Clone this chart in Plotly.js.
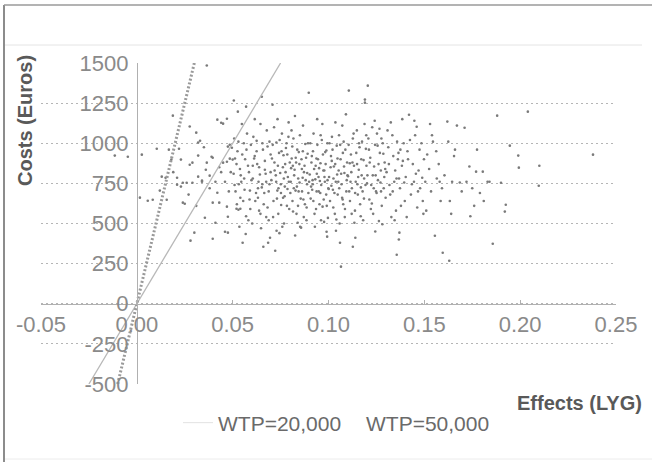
<!DOCTYPE html>
<html>
<head>
<meta charset="utf-8">
<script src="https://cdn.plot.ly/plotly-3.0.1.min.js"></script>
<style>
html,body{margin:0;padding:0;background:#fff;}
#chart{width:652px;height:462px;}
</style>
</head>
<body>
<div id="chart"></div>
<script>
// Simulated incremental effects (LYG) and costs (Euros)
const effects = [
-0.0115,-0.0047,0.0026,0.0016,0.0057,0.0083,0.0104,0.013,0.015,0.0156,
0.0167,0.018,0.0188,0.021,0.021,0.022,0.023,0.023,0.024,0.025,
0.024,0.026,0.0276,0.0276,0.028,0.029,0.029,0.030,0.031,0.032,
0.032,0.033,0.032,0.034,0.034,0.0355,0.0365,0.0365,0.038,0.039,
0.0396,0.0396,0.0396,0.041,0.041,0.042,0.042,0.043,0.044,0.045,
0.045,0.046,0.047,0.047,0.047,0.0475,0.0475,0.0475,0.0485,0.0485,
0.0496,0.050,0.0506,0.052,0.0527,0.053,0.054,0.057,0.036,0.044,
0.012,0.019,0.027,0.035,0.038,0.043,0.046,0.048,0.049,0.031,
0.051,0.052,0.053,0.054,0.055,0.056,0.057,0.058,0.059,0.0595,
0.0505,0.0515,0.0525,0.0535,0.0545,0.0555,0.0565,0.0575,0.0585,0.0592,
0.0508,0.0522,0.0538,0.0548,0.0562,0.0572,0.0582,0.0598,0.0532,0.0568,
0.0512,0.0542,0.0558,0.0588,0.0552,
0.0605,0.0612,0.0618,0.0625,0.0632,0.0638,0.0645,0.0652,0.0658,0.0665,
0.0672,0.0678,0.0685,0.0692,0.0698,0.0602,0.0615,0.0628,0.0635,0.0648,
0.0655,0.0662,0.0668,0.0675,0.0682,0.0688,0.0695,0.0608,0.0622,0.0642,
0.0655,0.0668,0.0682,0.0615,0.0638,0.0692,0.0645,0.0605,0.0675,0.066,
0.0625,0.0698,0.0632,0.0688,0.0652,
0.0702,0.0708,0.0713,0.0718,0.0722,0.0728,0.0733,0.0738,0.0742,0.0748,
0.0752,0.0757,0.0762,0.0768,0.0772,0.0778,0.0783,0.0788,0.0792,0.0798,
0.0705,0.0711,0.0716,0.0725,0.0731,0.0736,0.0745,0.0751,0.0759,0.0765,
0.0771,0.0776,0.0781,0.0786,0.0795,0.0709,0.0727,0.0744,0.0763,0.0785,
0.0719,0.0739,0.0755,0.0774,0.0793,0.0734,0.0753,0.0767,0.0729,0.0791,
0.0803,0.0808,0.0812,0.0817,0.0823,0.0828,0.0833,0.0837,0.0842,0.0848,
0.0852,0.0857,0.0862,0.0867,0.0872,0.0877,0.0883,0.0888,0.0893,0.0897,
0.0805,0.0815,0.0825,0.0835,0.0845,0.0855,0.0865,0.0875,0.0885,0.0895,
0.0801,0.0811,0.0821,0.0831,0.0841,0.0851,0.0861,0.0871,0.0881,0.0891,
0.0807,0.0819,0.0829,0.0839,0.0849,0.0859,0.0869,0.0879,0.0889,0.0899,
0.0814,0.0844,0.0866,0.0886,0.0826,
0.0902,0.0907,0.0913,0.0918,0.0922,0.0927,0.0933,0.0938,0.0942,0.0948,
0.0953,0.0958,0.0962,0.0968,0.0973,0.0977,0.0983,0.0988,0.0990,0.0995,
0.0905,0.0915,0.0925,0.0935,0.0945,0.0955,0.0965,0.0975,0.0985,0.0997,
0.0909,0.0919,0.0929,0.0939,0.0949,0.0959,0.0969,0.0979,0.0989,0.0999,
0.0911,0.0931,0.0951,0.0971,0.0991,0.0921,0.0941,0.0961,0.0981,0.0994,
0.0917,0.0937,0.0957,0.0978,0.0993,
0.1003,0.1008,0.1013,0.1018,0.1023,0.1028,0.1033,0.1038,0.1043,0.1048,
0.1053,0.1058,0.1063,0.1065,0.1068,0.1072,0.1077,0.1083,0.1088,0.1093,
0.1097,0.1005,0.1015,0.1025,0.1035,0.1045,0.1055,0.1060,0.1075,0.1085,
0.1095,0.1011,0.1021,0.1031,0.1041,0.1051,0.1061,0.1071,0.1081,0.1091,
0.1001,0.1026,0.1047,0.1066,0.1086,0.1036,0.1056,0.1079,0.1099,0.1017,
0.1039,0.1074,
0.1102,0.1106,0.1112,0.1117,0.1122,0.1127,0.1127,0.1133,0.1138,0.1142,
0.1140,0.1148,0.1153,0.1158,0.1162,0.1168,0.1173,0.1178,0.1183,0.1188,
0.1190,0.1190,0.1193,0.1198,0.1105,0.1115,0.1125,0.1135,0.1145,0.1155,
0.1165,0.1175,0.1185,0.1195,0.1108,0.1119,0.1131,0.1151,0.1171,0.1181,
0.1111,0.1139,0.1159,0.1186,0.1121,0.1149,0.1169,0.1197,
0.1203,0.1205,0.1208,0.1213,0.1218,0.1223,0.1228,0.1233,0.1238,0.1243,
0.1248,0.1253,0.1258,0.1263,0.1268,0.1273,0.1278,0.1283,0.1288,0.1293,
0.1298,0.1211,0.1221,0.1231,0.1241,0.1251,0.1261,0.1271,0.1281,0.1291,
0.1215,0.1236,0.1256,0.1276,0.1296,0.1226,0.1246,0.1266,0.1286,0.1201,
0.1244,0.1274,
0.1303,0.1312,0.1322,0.1333,0.1343,0.1352,0.1356,0.1362,0.1367,0.1370,
0.1373,0.1383,0.1392,0.1398,0.1308,0.1318,0.1328,0.1338,0.1348,0.1358,
0.1368,0.1378,0.1388,0.1315,0.1335,0.1355,0.1375,0.1395,0.1325,0.1345,
0.1385,0.1365,
0.1403,0.1412,0.1420,0.1430,0.1440,0.1446,0.1452,0.1460,0.1463,0.1470,
0.1478,0.1485,0.1492,0.1498,0.1408,0.1425,0.1435,0.1456,0.1475,0.1489,
0.1415,0.1448,0.1467,0.1495,
0.1505,0.1515,0.1525,0.1535,0.1545,0.1555,0.1565,0.1575,0.1585,0.1596,
0.1510,0.1540,0.1562,0.1580,0.1530,0.1592,
0.1605,0.1620,0.1630,0.1633,0.1645,0.1655,0.1670,0.1685,0.1640,0.1660,
0.1695,0.1625,
0.1710,0.1720,0.1735,0.1750,0.1770,0.1790,0.1775,0.1760,0.1805,0.1830,
0.1840,0.1857,0.1880,0.1900,0.1925,0.1920,0.1946,0.1990,0.1993,0.2040,
0.2100,0.2097,0.2380,0.1740,0.1810
];
const costs = [
923,916,929,661,642,648,966,792,785,648,
960,898,1172,785,742,966,898,730,630,623,
754,754,1104,866,393,879,754,443,1066,923,
1004,1016,792,767,760,536,1484,879,798,916,
910,630,405,760,505,1147,692,630,1128,1122,
879,449,1153,605,885,542,443,979,991,904,
972,898,1266,592,1197,586,592,1228,835,820,
705,820,680,975,720,850,760,700,820,610,
740,870,1010,660,930,780,545,860,705,990,
810,700,950,480,760,640,900,1060,820,590,
1030,620,840,1120,710,960,520,770,745,435,
905,800,1000,650,380,
780,905,640,1015,720,850,560,1290,960,690,
810,1080,380,745,930,500,1150,870,760,470,
1000,620,835,540,980,700,411,1040,690,805,
745,890,600,920,580,1010,1120,860,760,355,
950,820,660,520,725,
770,1240,640,880,330,1005,705,560,940,815,
690,1060,850,500,730,970,610,790,1130,880,
905,540,1100,800,655,860,1020,745,480,925,
670,820,1000,715,590,990,760,440,660,930,
830,720,950,870,760,1150,615,780,455,1040,
760,905,640,1030,835,705,560,960,780,870,
480,474,700,1110,820,620,910,745,1000,1315,
845,575,1170,730,945,655,785,860,520,690,
690,980,800,880,610,1050,840,540,770,935,
1080,720,910,505,755,900,650,995,815,760,
860,700,950,600,425,
805,655,920,745,1060,560,860,700,990,790,
620,875,740,1120,830,510,945,680,449,770,
1000,710,840,590,900,765,1020,650,870,535,
730,950,480,810,700,1050,605,790,955,720,
880,775,845,930,610,640,1150,520,760,1000,
770,905,690,830,418,
790,640,920,1040,710,855,560,760,985,680,
830,500,900,231,745,1110,620,815,960,700,
880,1000,735,600,870,805,1050,380,940,540,
770,850,960,690,525,760,990,660,855,1180,
715,780,905,810,590,1130,720,1010,800,890,
455,650,
795,1328,640,930,720,355,1030,860,580,760,
411,1080,680,835,975,545,800,700,895,1120,
1272,1253,740,860,990,760,880,505,940,790,
620,1010,655,965,700,820,1060,745,900,520,
875,690,1000,780,560,870,725,1050,
800,1359,1030,650,910,740,1100,560,855,990,
700,1060,770,515,940,830,610,1000,720,880,
660,960,590,800,1140,690,870,755,495,790,
880,720,985,1030,840,625,800,1090,935,750,
450,700,
820,975,680,1050,760,580,305,900,400,443,
720,860,1000,640,1080,740,540,920,830,1010,
780,610,890,870,700,780,960,755,1130,520,
1150,940,
790,950,1178,680,870,760,1050,1103,600,830,
720,1000,640,900,540,1020,745,810,960,785,
900,1140,700,560,
760,930,840,700,1010,424,780,870,640,318,
580,1050,950,760,1120,720,
800,1135,268,640,760,920,1110,755,560,960,
700,1010,
1097,760,855,720,823,690,960,610,823,760,
760,374,1172,754,617,574,985,923,848,1197,
860,735,929,545,640
];

// Willingness-to-pay threshold lines (cost = WTP x effect)
const wtp20Effects = [-0.025, 0.075];
const wtp20Costs = [-500, 1500];
const wtp50Effects = [-0.01, 0.03];
const wtp50Costs = [-500, 1500];

const xTickVals = [-0.05, 0, 0.05, 0.10, 0.15, 0.20, 0.25];
const xTickText = ['-0.05', '0.00', '0.05', '0.10', '0.15', '0.20', '0.25'];
const yTickVals = [-500, -250, 0, 250, 500, 750, 1000, 1250, 1500];
const yTickText = ['-500', '-250', '0', '250', '500', '750', '1000', '1250', '1500'];

const FONT = 'Liberation Sans, Arial, sans-serif';

const L = 41, R = 616, T = 63, B = 384;
const W = R - L, H = B - T;
const px = v => (v - L) / W;
const py = v => (B - v) / H;

const traces = [
  {
    x: effects, y: costs, type: 'scatter', mode: 'markers',
    marker: {size: 2.6, color: '#7a7a7a'},
    showlegend: false, hoverinfo: 'skip'
  },
  {
    x: wtp20Effects, y: wtp20Costs, type: 'scatter', mode: 'lines',
    name: 'WTP=20,000',
    line: {color: '#b8b8b8', width: 1.3},
    showlegend: false, hoverinfo: 'skip'
  },
  {
    x: wtp50Effects, y: wtp50Costs, type: 'scatter', mode: 'lines',
    name: 'WTP=50,000',
    line: {color: '#9a9a9a', width: 3, dash: '2px,2px'},
    showlegend: false, hoverinfo: 'skip'
  },
  // legend entries (faint samples, as in the original)
  {
    x: [null], y: [null], type: 'scatter', mode: 'lines',
    name: 'WTP=20,000', legend: 'legend',
    line: {color: '#e2e2e2', width: 1}, hoverinfo: 'skip'
  },
  {
    x: [null], y: [null], type: 'scatter', mode: 'lines',
    name: 'WTP=50,000', legend: 'legend2',
    line: {color: 'rgba(255,255,255,0)', width: 1}, hoverinfo: 'skip'
  }
];

const legendBase = {
  orientation: 'h', xanchor: 'left', yanchor: 'middle', y: py(423),
  font: {family: FONT, size: 21, color: '#6a6a6a'},
  itemwidth: 30, bgcolor: 'rgba(0,0,0,0)'
};

const layout = {
  width: 652, height: 462,
  margin: {l: L, r: 652 - R, t: T, b: 462 - B, pad: 0},
  paper_bgcolor: '#ffffff',
  plot_bgcolor: '#ffffff',
  font: {family: FONT, color: '#8a8a8a'},
  showlegend: true,
  legend: Object.assign({}, legendBase, {x: px(218 - 40)}),
  legend2: Object.assign({}, legendBase, {x: px(366 - 40)}),
  xaxis: {
    range: [-0.05, 0.25],
    anchor: 'free', position: 0.25,
    tickmode: 'array', tickvals: xTickVals, ticktext: xTickText,
    showgrid: false, zeroline: false,
    showline: true, linecolor: '#b0b0b0', linewidth: 1.5,
    ticks: 'inside', ticklen: 4, tickcolor: '#b0b0b0',
    tickfont: {family: FONT, size: 22, color: '#8a8a8a'},
    ticklabelstandoff: 0
  },
  yaxis: {
    range: [-500, 1500],
    anchor: 'free', position: (0 - (-0.05)) / 0.30,
    tickmode: 'array', tickvals: yTickVals, ticktext: yTickText,
    showgrid: true, gridcolor: '#b5b5b5', gridwidth: 1, griddash: '2px,3px',
    zeroline: false,
    showline: true, linecolor: '#b0b0b0', linewidth: 1.5,
    ticks: '',
    tickfont: {family: FONT, size: 22, color: '#8a8a8a'},
    ticklabelstandoff: 4
  },
  annotations: [
    {
      text: '<b>Costs (Euros)</b>', xref: 'paper', yref: 'paper',
      x: px(25), y: py(121), xanchor: 'center', yanchor: 'middle',
      textangle: -90, showarrow: false,
      font: {family: FONT, size: 20, color: '#595959'}
    },
    {
      text: '<b>Effects (LYG)</b>', xref: 'paper', yref: 'paper',
      x: px(644), y: py(403), xanchor: 'right', yanchor: 'middle',
      showarrow: false,
      font: {family: FONT, size: 20, color: '#595959'}
    }
  ],
  shapes: [
    {type: 'line', xref: 'paper', yref: 'paper', x0: px(4), x1: px(4), y0: py(5), y1: py(462),
     line: {color: '#8c8c8c', width: 2}},
    {type: 'line', xref: 'paper', yref: 'paper', x0: px(4), x1: px(652), y0: py(5), y1: py(5),
     line: {color: '#9a9a9a', width: 1.5}},
    {type: 'line', xref: 'paper', yref: 'paper', x0: px(5), x1: px(642), y0: py(45), y1: py(45),
     line: {color: '#e4e4e4', width: 1}},
    {type: 'line', xref: 'paper', yref: 'paper', x0: px(5), x1: px(652), y0: py(459), y1: py(459),
     line: {color: '#ececec', width: 1}}
  ]
};

Plotly.newPlot('chart', traces, layout, {staticPlot: true, displayModeBar: false});
</script>
</body>
</html>
